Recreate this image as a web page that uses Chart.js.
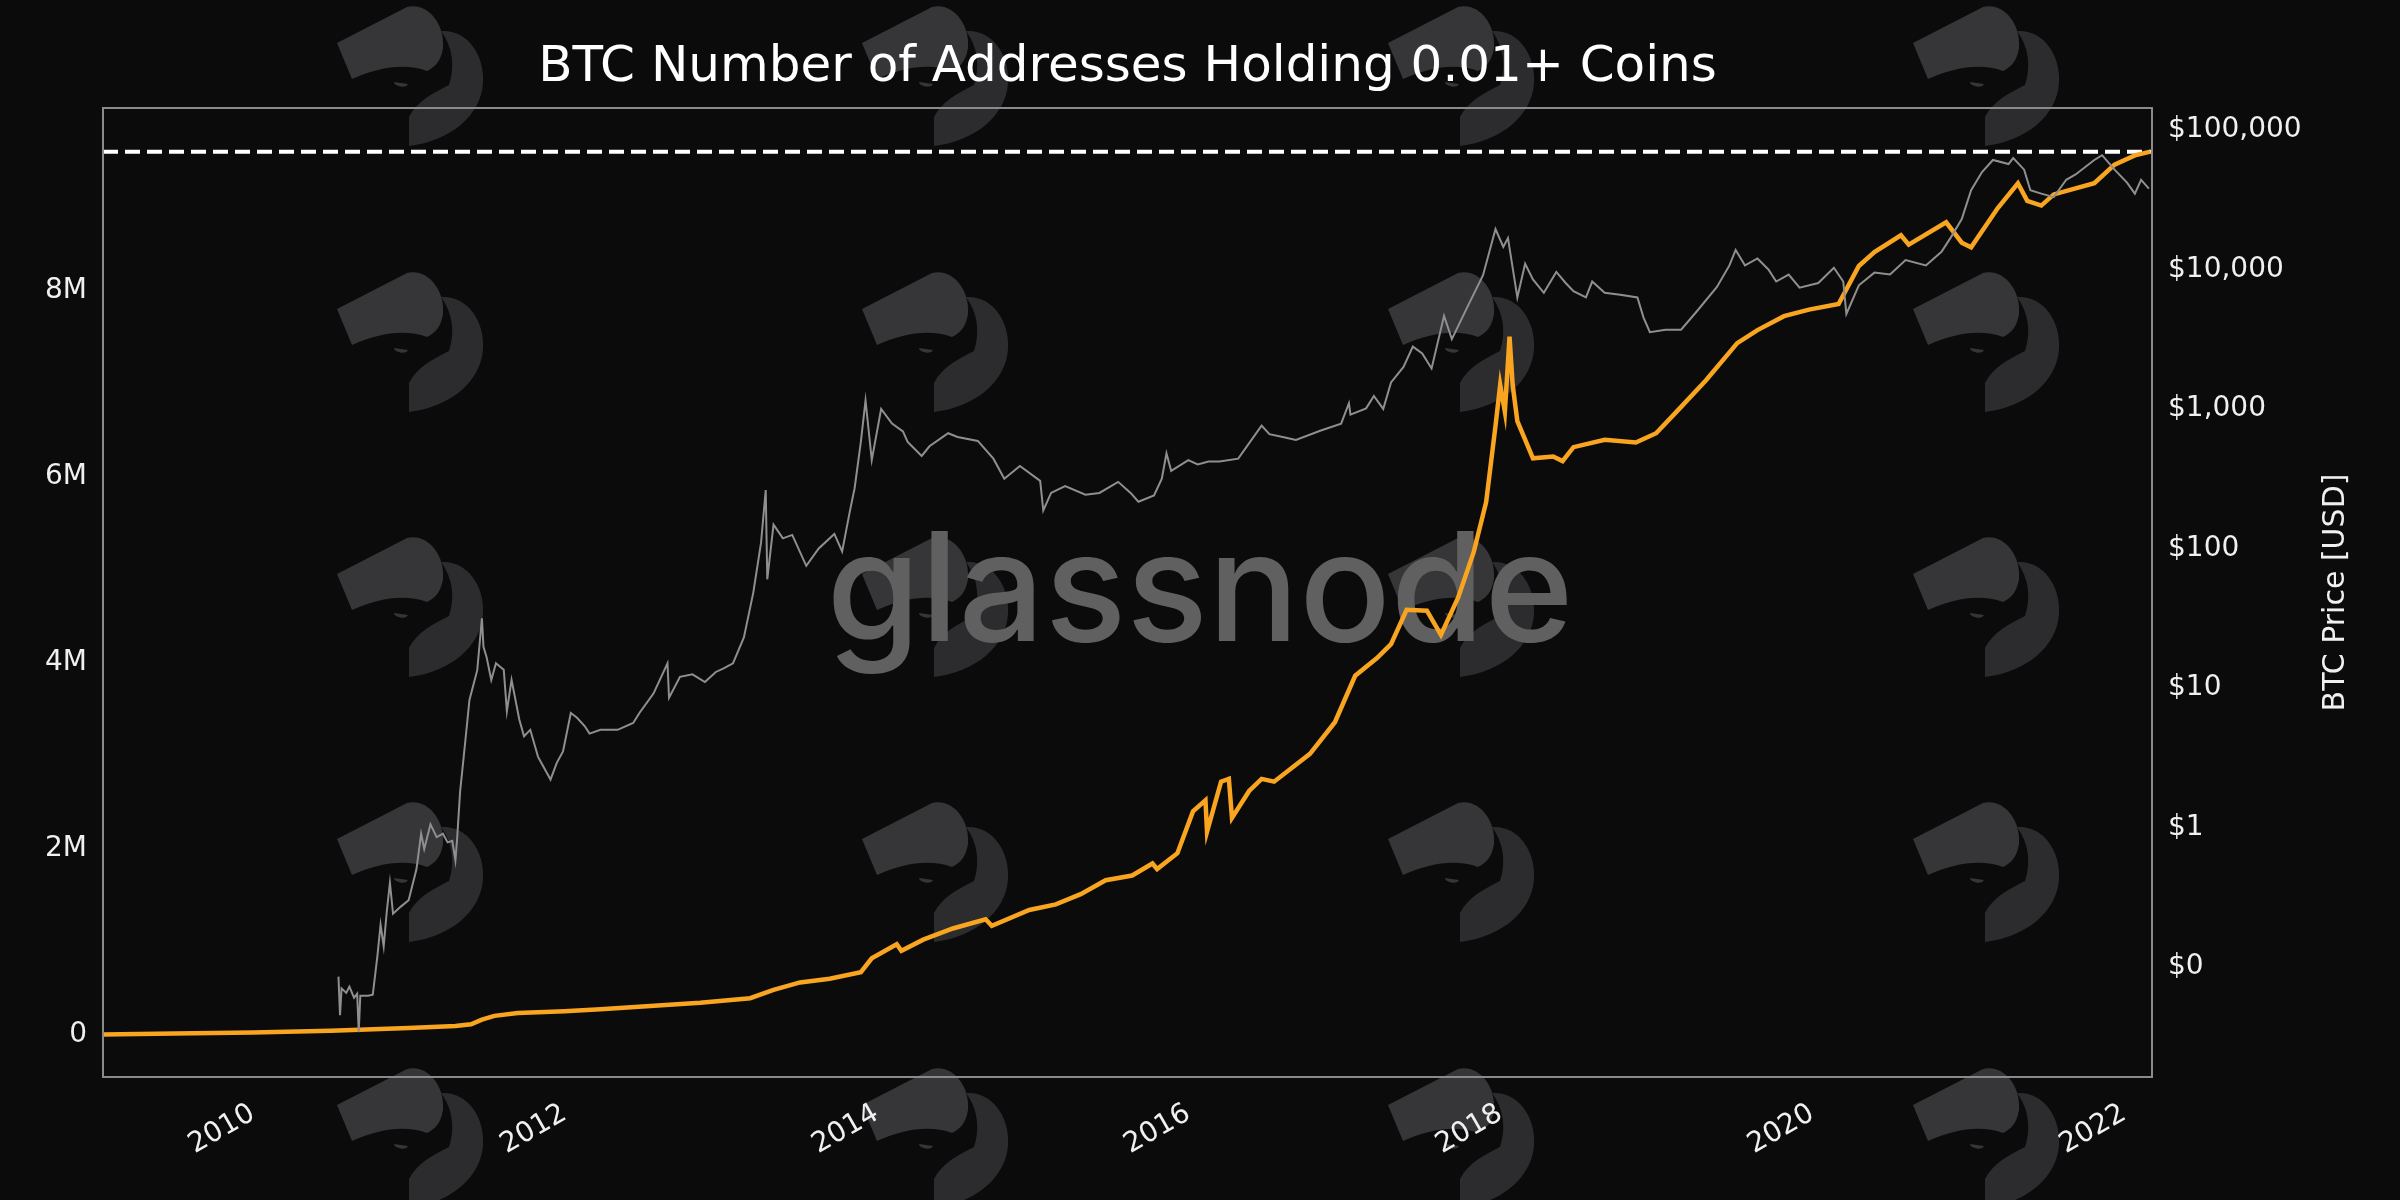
<!DOCTYPE html>
<html>
<head>
<meta charset="utf-8">
<title>BTC Number of Addresses Holding 0.01+ Coins</title>
<script src="https://cdn.jsdelivr.net/npm/chart.js@4.4.1/dist/chart.umd.min.js"></script>
<style>
  html, body { margin: 0; padding: 0; background: #0b0b0b; }
  #wrap { width: 2400px; height: 1200px; }
</style>
</head>
<body>
<div id="wrap"><canvas id="chart" width="2400" height="1200"></canvas></div>
<script>
// addresses holding >= 0.01 BTC, in millions (decimal year)
const addrYears = [
  2009.04, 2009.50, 2010.00, 2010.50, 2011.00, 2011.30, 2011.40, 2011.47, 2011.55, 2011.70,
  2012.00, 2012.23, 2012.50, 2012.87, 2013.19, 2013.34, 2013.51, 2013.70, 2013.90, 2013.97,
  2014.13, 2014.16, 2014.30, 2014.49, 2014.70, 2014.74, 2014.98, 2015.15, 2015.31, 2015.47,
  2015.64, 2015.77, 2015.80, 2015.93, 2016.03, 2016.11, 2016.12, 2016.21, 2016.26, 2016.28,
  2016.39, 2016.47, 2016.55, 2016.78, 2016.94, 2017.07, 2017.21, 2017.30, 2017.40, 2017.53,
  2017.62, 2017.73, 2017.83, 2017.91, 2017.97, 2018.00, 2018.03, 2018.06, 2018.08, 2018.11,
  2018.16, 2018.21, 2018.34, 2018.40, 2018.47, 2018.67, 2018.87, 2019.00, 2019.13, 2019.32,
  2019.52, 2019.65, 2019.82, 2019.98, 2020.17, 2020.30, 2020.40, 2020.57, 2020.62, 2020.86,
  2020.96, 2021.02, 2021.19, 2021.32, 2021.38, 2021.47, 2021.55, 2021.81, 2021.94, 2022.07,
  2022.17
];
const addrValues = [
  0.00, 0.01, 0.02, 0.04, 0.07, 0.09, 0.11, 0.16, 0.20, 0.23,
  0.25, 0.27, 0.30, 0.34, 0.39, 0.48, 0.56, 0.60, 0.67, 0.82,
  0.97, 0.90, 1.02, 1.14, 1.24, 1.17, 1.34, 1.40, 1.51, 1.66,
  1.71, 1.84, 1.78, 1.95, 2.40, 2.52, 2.18, 2.72, 2.75, 2.33,
  2.62, 2.75, 2.72, 3.02, 3.36, 3.86, 4.05, 4.20, 4.57, 4.56,
  4.30, 4.70, 5.19, 5.73, 6.55, 6.99, 6.70, 7.51, 6.99, 6.60,
  6.40, 6.20, 6.22, 6.17, 6.32, 6.40, 6.37, 6.47, 6.70, 7.04,
  7.44, 7.58, 7.73, 7.80, 7.86, 8.27, 8.42, 8.60, 8.50, 8.74,
  8.52, 8.47, 8.89, 9.16, 8.97, 8.92, 9.04, 9.16, 9.36, 9.46,
  9.50
];

// BTC price in USD
const priceYears = [
  2010.55, 2010.56, 2010.57, 2010.60, 2010.62, 2010.65, 2010.67, 2010.68, 2010.69, 2010.74,
  2010.77, 2010.80, 2010.82, 2010.84, 2010.86, 2010.88, 2010.90, 2010.95, 2011.00, 2011.05,
  2011.08, 2011.10, 2011.14, 2011.18, 2011.22, 2011.25, 2011.28, 2011.30, 2011.31, 2011.33,
  2011.36, 2011.39, 2011.44, 2011.47, 2011.48, 2011.50, 2011.53, 2011.56, 2011.61, 2011.63,
  2011.66, 2011.71, 2011.74, 2011.78, 2011.83, 2011.91, 2011.95, 2011.99, 2012.04, 2012.08,
  2012.13, 2012.16, 2012.23, 2012.34, 2012.44, 2012.48, 2012.57, 2012.66, 2012.67, 2012.74,
  2012.82, 2012.90, 2012.97, 2013.02, 2013.08, 2013.15, 2013.21, 2013.26, 2013.29, 2013.30,
  2013.34, 2013.40, 2013.46, 2013.55, 2013.63, 2013.73, 2013.78, 2013.83, 2013.86, 2013.90,
  2013.93, 2013.97, 2014.03, 2014.10, 2014.17, 2014.20, 2014.29, 2014.34, 2014.46, 2014.52,
  2014.65, 2014.75, 2014.82, 2014.92, 2015.05, 2015.07, 2015.12, 2015.21, 2015.34, 2015.43,
  2015.55, 2015.63, 2015.68, 2015.78, 2015.83, 2015.86, 2015.89, 2016.00, 2016.06, 2016.13,
  2016.20, 2016.32, 2016.47, 2016.52, 2016.62, 2016.69, 2016.85, 2016.98, 2017.03, 2017.04,
  2017.14, 2017.19, 2017.25, 2017.30, 2017.38, 2017.44, 2017.50, 2017.56, 2017.64, 2017.69,
  2017.79, 2017.89, 2017.97, 2018.02, 2018.05, 2018.11, 2018.16, 2018.21, 2018.28, 2018.36,
  2018.42, 2018.47, 2018.55, 2018.59, 2018.67, 2018.77, 2018.88, 2018.92, 2018.96, 2019.06,
  2019.16, 2019.26, 2019.39, 2019.47, 2019.51, 2019.57, 2019.65, 2019.72, 2019.77, 2019.85,
  2019.92, 2020.04, 2020.14, 2020.20, 2020.22, 2020.30, 2020.40, 2020.50, 2020.60, 2020.73,
  2020.83, 2020.89, 2020.96, 2021.02, 2021.09, 2021.16, 2021.26, 2021.29, 2021.36, 2021.40,
  2021.47, 2021.55, 2021.63, 2021.69, 2021.81, 2021.86, 2021.94, 2022.02, 2022.07, 2022.11,
  2022.16
];
const priceValues = [
  0.085, 0.045, 0.07, 0.065, 0.072, 0.06, 0.064, 0.034, 0.062, 0.062,
  0.063, 0.12, 0.2, 0.14, 0.25, 0.40, 0.24, 0.27, 0.30, 0.50,
  0.9, 0.7, 1.05, 0.85, 0.90, 0.78, 0.80, 0.58, 0.80, 1.8,
  3.8, 8.2, 13.4, 31.5, 19.7, 16.6, 11.4, 15, 13.5, 6.8,
  11.4, 5.9, 4.5, 5, 3.2, 2.2, 2.9, 3.5, 6.6, 6.1,
  5.3, 4.7, 5.0, 5.0, 5.6, 6.6, 9.1, 15, 8.5, 12,
  12.5, 11, 13, 13.8, 15, 23, 48, 110, 262, 60,
  148, 118, 125, 75, 100, 127, 95, 186, 270, 580,
  1150, 430, 1000, 785, 690, 580, 460, 540, 670, 630,
  590, 440, 316, 390, 305, 187, 250, 280, 243, 250,
  300, 250, 216, 240, 316, 480, 360, 430, 400, 420,
  420, 440, 760, 660, 625, 600, 700, 785, 1100, 910,
  1010, 1240, 1000, 1550, 2000, 2800, 2500, 1950, 4650, 3170,
  5400, 9100, 19500, 14500, 16800, 6300, 11000, 8500, 6800, 9600,
  8000, 7000, 6300, 8200, 6800, 6600, 6300, 4500, 3550, 3700,
  3700, 5000, 7500, 10700, 13800, 10700, 12000, 10000, 8200, 9200,
  7400, 8000, 10300, 8200, 4800, 7700, 9500, 9200, 11700, 10700,
  13400, 17000, 23000, 37000, 50000, 61000, 57000, 63000, 52000, 37000,
  35000, 33000, 44000, 48000, 61000, 66000, 52000, 42000, 35000, 44000,
  38000
];

const yearTicks = [2010, 2012, 2014, 2016, 2018, 2020, 2022];
const addrTicks = [0, 2, 4, 6, 8];
const addrTickLabels = ['0', '2M', '4M', '6M', '8M'];
const priceTicks = [0.1, 1, 10, 100, 1000, 10000, 100000];
const priceTickLabels = ['$0', '$1', '$10', '$100', '$1,000', '$10,000', '$100,000'];

const X_MIN = 2009.04, X_MAX = 2022.18;
const BG = '#0b0b0b';
const FONT = 'DejaVu Sans';

Chart.defaults.font.family = FONT;

const addrPoints = addrYears.map((x, i) => ({ x: x, y: addrValues[i] }));
const pricePoints = priceYears.map((x, i) => ({ x: x, y: priceValues[i] }));
const athValue = Math.max(...addrValues);
const athPoints = [{ x: X_MIN, y: athValue }, { x: X_MAX, y: athValue }];

// glassnode logo mark, roughly 146 x 141 px
function drawLogo(c, x0, y0) {
    c.save();
    c.translate(x0, y0);
    c.fillStyle = '#363638';
    c.beginPath();
    c.moveTo(0, 38);
    c.lineTo(70, 2);
    c.bezierCurveTo(90, -3, 108, 18, 106, 43);
    c.bezierCurveTo(104, 56, 98, 62, 90, 66);
    c.bezierCurveTo(68, 58, 42, 62, 15, 74);
    c.closePath();
    c.fill();
    c.fillStyle = '#2c2c2f';
    c.beginPath();
    c.moveTo(104, 26);
    c.bezierCurveTo(130, 24, 148, 50, 146, 78);
    c.bezierCurveTo(144, 110, 114, 136, 72, 141);
    c.lineTo(72, 112);
    c.bezierCurveTo(80, 96, 96, 88, 112, 80);
    c.bezierCurveTo(118, 62, 116, 42, 104, 26);
    c.closePath();
    c.fill();
    c.fillStyle = '#363638';
    c.beginPath();
    c.ellipse(64, 78, 7, 3.5, 0.15, 0, Math.PI);
    c.fill();
    c.restore();
}

const logoCols = [337, 862, 1388, 1913];
const logoRows = [5, 271, 536, 801, 1067];

const watermark = {
    id: 'watermark',
    beforeDraw(chart) {
        const c = chart.ctx;
        c.save();
        c.fillStyle = BG;
        c.fillRect(0, 0, chart.width, chart.height);
        logoCols.forEach(x => logoRows.forEach(y => drawLogo(c, x, y)));
        c.font = '500 150px Inter';
        const w = c.measureText('glassnode').width;
        c.font = '500 ' + (150 * 747 / w).toFixed(1) + 'px Inter';
        c.fillStyle = '#606060';
        c.textAlign = 'center';
        c.textBaseline = 'alphabetic';
        c.fillText('glassnode', chart.width / 2, 641);
        c.restore();
    }
};

const frame = {
    id: 'frame',
    afterDatasetsDraw(chart) {
        const a = chart.chartArea;
        const c = chart.ctx;
        c.save();
        c.strokeStyle = '#8a8a8a';
        c.lineWidth = 2;
        c.strokeRect(a.left, a.top, a.right - a.left, a.bottom - a.top);
        c.restore();
    }
};

const rightTitle = {
    id: 'rightTitle',
    afterDraw(chart) {
        const a = chart.chartArea;
        const c = chart.ctx;
        c.save();
        c.translate(chart.width - 64, (a.top + a.bottom) / 2);
        c.rotate(-Math.PI / 2);
        c.font = '30px ' + FONT;
        c.fillStyle = '#f0f0f0';
        c.textAlign = 'center';
        c.textBaseline = 'middle';
        c.fillText('BTC Price [USD]', 0, 0);
        c.restore();
    }
};

const tickFont = { family: FONT, size: 28 };

new Chart(document.getElementById('chart').getContext('2d'), {
    type: 'line',
    data: {
        datasets: [
            {
                label: 'BTC Price [USD]',
                data: pricePoints,
                yAxisID: 'yPrice',
                borderColor: '#8f8f8f',
                borderWidth: 2,
                pointRadius: 0,
                order: 0
            },
            {
                label: 'Addresses Holding 0.01+ Coins',
                data: addrPoints,
                yAxisID: 'yAddr',
                borderColor: '#f9a51f',
                borderWidth: 4.5,
                pointRadius: 0,
                order: 1
            },
            {
                label: 'ATH',
                data: athPoints,
                yAxisID: 'yAddr',
                borderColor: '#ffffff',
                borderWidth: 4,
                borderDash: [15, 7],
                pointRadius: 0,
                order: 2
            }
        ]
    },
    options: {
        responsive: false,
        animation: false,
        devicePixelRatio: 1,
        layout: { padding: 0 },
        plugins: {
            legend: { display: false },
            tooltip: { enabled: false },
            title: {
                display: true,
                text: 'BTC Number of Addresses Holding 0.01+ Coins',
                color: '#ffffff',
                fullSize: false,
                font: { family: FONT, size: 50, weight: 'normal', lineHeight: 1.2 },
                padding: { top: 38, bottom: 10 }
            }
        },
        scales: {
            x: {
                type: 'linear',
                min: X_MIN,
                max: X_MAX,
                bounds: 'data',
                grid: { display: false, drawTicks: false },
                border: { display: false },
                ticks: {
                    color: '#f0f0f0',
                    font: tickFont,
                    padding: 20,
                    minRotation: 30,
                    maxRotation: 30,
                    autoSkip: false,
                    callback: v => String(v)
                },
                afterBuildTicks: s => { s.ticks = yearTicks.map(v => ({ value: v })); },
                afterFit: s => { s.height = 123; }
            },
            yAddr: {
                type: 'linear',
                position: 'left',
                min: -0.458,
                max: 9.97,
                bounds: 'data',
                grid: { display: false, drawTicks: false },
                border: { display: false },
                ticks: {
                    color: '#f0f0f0',
                    font: tickFont,
                    padding: 16,
                    autoSkip: false,
                    callback: (v, i) => addrTickLabels[i]
                },
                afterBuildTicks: s => { s.ticks = addrTicks.map(v => ({ value: v })); },
                afterFit: s => { s.width = 103; }
            },
            yPrice: {
                type: 'logarithmic',
                position: 'right',
                min: 0.0162,
                max: 143900,
                bounds: 'data',
                grid: { display: false, drawTicks: false },
                border: { display: false },
                ticks: {
                    color: '#f0f0f0',
                    font: tickFont,
                    padding: 16,
                    autoSkip: false,
                    callback: (v, i) => priceTickLabels[i]
                },
                afterBuildTicks: s => { s.ticks = priceTicks.map(v => ({ value: v })); },
                afterFit: s => { s.width = 248; }
            }
        }
    },
    plugins: [watermark, frame, rightTitle]
});
</script>
</body>
</html>
